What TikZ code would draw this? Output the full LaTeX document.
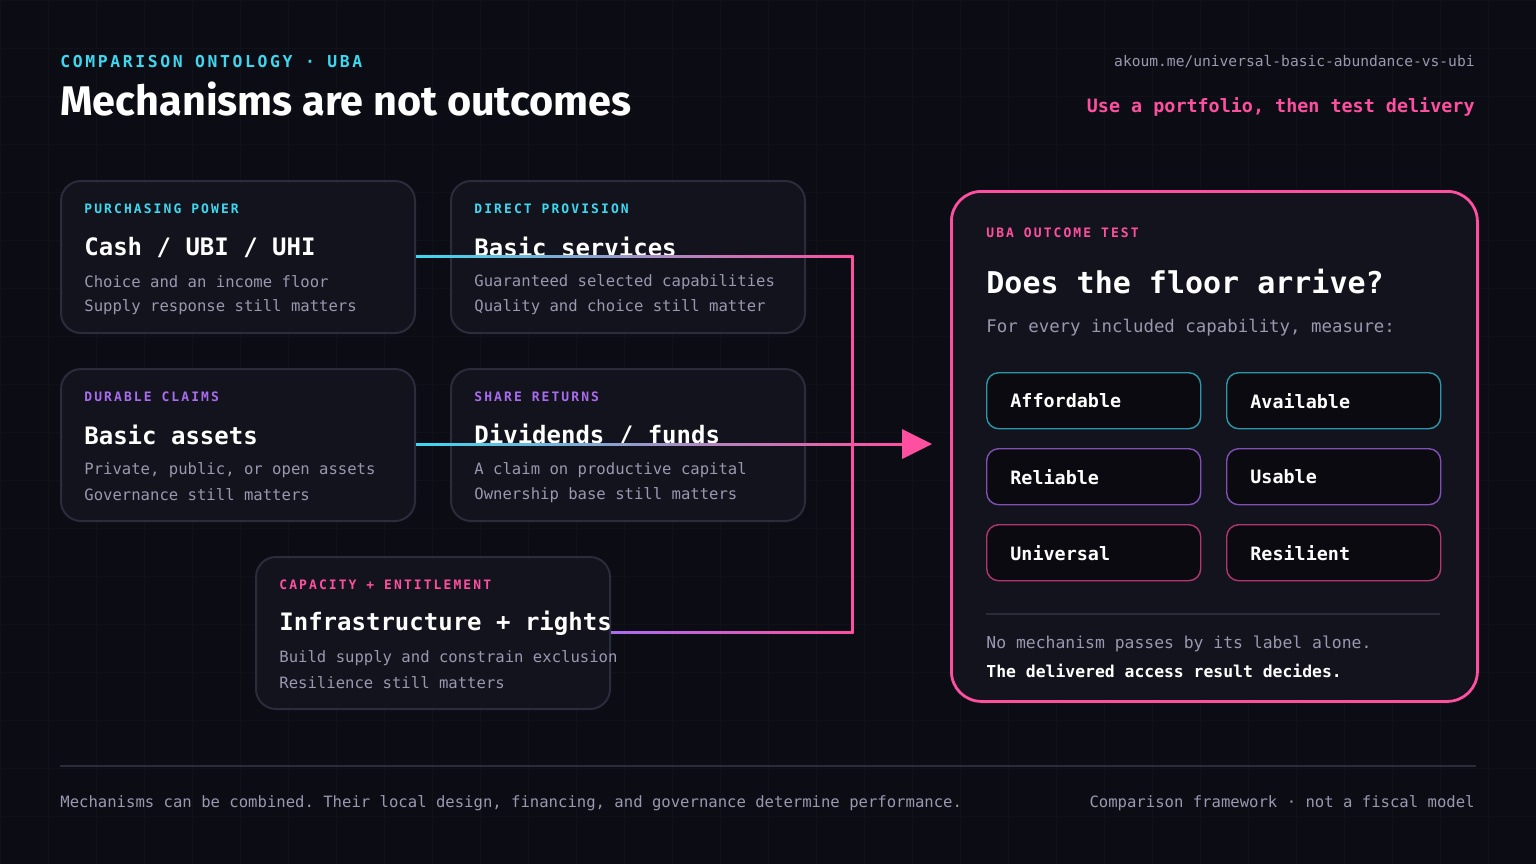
\documentclass[tikz,border=0pt]{standalone}
\usepackage{fontspec}
\setmainfont{Fira Sans}
\setmonofont{DejaVu Sans Mono}
\newfontfamily\capsfont[LetterSpace=16]{DejaVu Sans Mono}
\usetikzlibrary{calc,positioning}
\definecolor{bgc}{HTML}{0C0D14}
\definecolor{cardc}{HTML}{12131C}
\definecolor{edgec}{HTML}{2A2B3B}
\definecolor{cyanc}{HTML}{3DD8F0}
\definecolor{purc}{HTML}{A96CF0}
\definecolor{pinkc}{HTML}{FF4FA0}
\definecolor{grayc}{HTML}{9A98B0}
\definecolor{chipc}{HTML}{0A0A10}

\tikzset{
  card/.style={draw=edgec, line width=1pt, fill=cardc, rounded corners=10pt,
    minimum width=177pt, minimum height=76pt, anchor=north west, inner sep=0pt},
  tag/.style={anchor=west, font=\capsfont\bfseries\fontsize{6.5}{8}\selectfont, inner sep=0pt},
  head/.style={anchor=west, text=white, font=\ttfamily\bfseries\fontsize{12}{14}\selectfont, inner sep=0pt},
  body/.style={anchor=west, text=grayc, font=\ttfamily\fontsize{7.8}{9}\selectfont, inner sep=0pt},
  chip/.style={draw=#1, line width=0.7pt, fill=chipc, rounded corners=6pt,
    minimum width=107pt, minimum height=28pt, anchor=north west, inner sep=0pt},
  chiptext/.style={anchor=west, text=white, font=\ttfamily\bfseries\fontsize{9.2}{11}\selectfont, inner sep=0pt}
}

% one mechanism card
\newcommand{\mechcard}[8]{
  \node[card] (#1) at (#2,#3) {};
  \node[tag, text=#4] at ($(#1.north west)+(24,29)$) {#5};
  \node[head] at ($(#1.north west)+(24,67)$) {#6};
  \node[body] at ($(#1.north west)+(24,102)$) {#7};
  \node[body] at ($(#1.north west)+(24,127)$) {#8};
}

\begin{document}
\begin{tikzpicture}[x=0.5pt, y=-0.5pt]
  \fill[bgc] (0,0) rectangle (1536,864);
  \useasboundingbox (0,0) rectangle (1536,864);
  \draw[white, opacity=0.025, step=24pt] (0,0) grid (1536,864);

  % header
  \node[anchor=west, text=cyanc, font=\capsfont\bfseries\fontsize{8.2}{10}\selectfont, inner sep=0pt] (kicker) at (60,62) {COMPARISON ONTOLOGY · UBA};
  \node[anchor=west, text=white, font=\fontsize{20.7}{24}\selectfont\bfseries, inner sep=0pt] (title) at (60,99) {Mechanisms are not outcomes};
  \node[anchor=east, text=grayc, font=\ttfamily\fontsize{7.3}{9}\selectfont, inner sep=0pt] (url) at (1475,62) {akoum.me/universal-basic-abundance-vs-ubi};
  \node[anchor=east, text=pinkc, font=\ttfamily\bfseries\fontsize{9.2}{11}\selectfont, inner sep=0pt] (motto) at (1475,107) {Use a portfolio, then test delivery};

  % mechanism cards
  \mechcard{cash}{60}{180}{cyanc}{PURCHASING POWER}{Cash / UBI / UHI}{Choice and an income floor}{Supply response still matters}
  \mechcard{services}{450}{180}{cyanc}{DIRECT PROVISION}{Basic services}{Guaranteed selected capabilities}{Quality and choice still matter}
  \mechcard{assets}{60}{368}{purc}{DURABLE CLAIMS}{Basic assets}{Private, public, or open assets}{Governance still matters}
  \mechcard{funds}{450}{368}{purc}{SHARE RETURNS}{Dividends / funds}{A claim on productive capital}{Ownership base still matters}
  \mechcard{infra}{255}{556}{pinkc}{CAPACITY + ENTITLEMENT}{Infrastructure + rights}{Build supply and constrain exclusion}{Resilience still matters}

  % outcome panel
  \node[draw=pinkc, line width=1.4pt, fill=cardc, rounded corners=15pt, minimum width=263pt,
    minimum height=255pt, anchor=north west, inner sep=0pt] (test) at (950,190) {};
  \node[tag, text=pinkc] at (986,233) {UBA OUTCOME TEST};
  \node[anchor=west, text=white, font=\ttfamily\bfseries\fontsize{15}{18}\selectfont, inner sep=0pt] at (986,282) {Does the floor arrive?};
  \node[anchor=west, text=grayc, font=\ttfamily\fontsize{8.7}{10}\selectfont, inner sep=0pt] at (986,328) {For every included capability, measure:};
  \node[chip=cyanc!70!black] (afford) at (986,372) {};
  \node[chip=cyanc!70!black] (avail) at (1226,372) {};
  \node[chip=purc!75!black] (reli) at (986,448) {};
  \node[chip=purc!75!black] (usable) at (1226,448) {};
  \node[chip=pinkc!70!black] (univ) at (986,524) {};
  \node[chip=pinkc!70!black] (resil) at (1226,524) {};
  \foreach \c/\t in {afford/Affordable, avail/Available, reli/Reliable, usable/Usable, univ/Universal, resil/Resilient}
    \node[chiptext] at ($(\c.west)+(24,0)$) {\t};
  \draw[edgec, line width=1pt] (986,614) -- (1440,614);
  \node[body, font=\ttfamily\fontsize{8.2}{10}\selectfont] at (986,644) {No mechanism passes by its label alone.};
  \node[body, text=white, font=\ttfamily\bfseries\fontsize{8.2}{10}\selectfont] at (986,671) {The delivered access result decides.};

  % connectors
  \coordinate (j1) at (852,256);
  \coordinate (j2) at (852,444);
  \coordinate (j3) at (852,632);
  \coordinate (tip) at (932,444);
  \shade[left color=cyanc, right color=pinkc] ($(cash.east)+(0,-1.5)$) rectangle ($(j1)+(1.5,1.5)$);
  \shade[left color=cyanc, right color=pinkc] ($(assets.east)+(0,-1.5)$) rectangle ($(tip)+(-28,1.5)$);
  \shade[left color=purc, right color=pinkc] ($(infra.east)+(0,-1.5)$) rectangle ($(j3)+(1.5,1.5)$);
  \draw[pinkc, line width=1.5pt] (j1) -- (j3);
  \fill[pinkc] (tip) -- ++(-30,-15) -- ++(0,30) -- cycle;

  % footer
  \draw[edgec, line width=0.8pt] (60,766) -- (1476,766);
  \node[body] (note) at (60,803) {Mechanisms can be combined. Their local design, financing, and governance determine performance.};
  \node[body, anchor=east] (scope) at (1475,803) {Comparison framework · not a fiscal model};
\end{tikzpicture}
\end{document}
